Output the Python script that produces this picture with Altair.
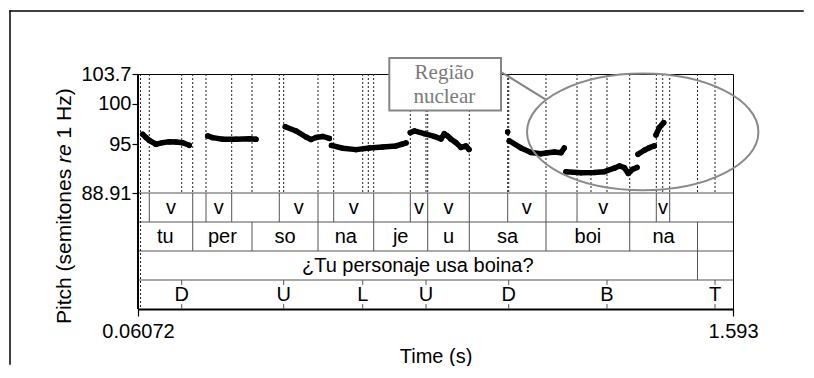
import altair as alt
import pandas as pd

# ---------------- axis ranges ----------------
X_MIN, X_MAX = 0.06072, 1.593
Y_MIN, Y_MAX = 88.91, 103.7
x_tick_values = [0.06072, 1.593]
y_tick_values = [88.91, 95, 100, 103.7]

# ---------------- pitch contour (time s, semitones re 1 Hz) ----------------
seg_t = [
    [0.0728, 0.0813, 0.0898, 0.1071, 0.1243, 0.1413, 0.1586, 0.1758, 0.1928],
    [0.2402, 0.2531, 0.2788, 0.3131, 0.3473, 0.3646],
    [0.4400, 0.4676, 0.4934, 0.5062, 0.5191, 0.5364, 0.5534],
    [0.5590, 0.5879, 0.6221, 0.6564, 0.6909, 0.7251, 0.7424, 0.7509],
    [0.7620, 0.7723, 0.7980, 0.8238, 0.8410, 0.8495, 0.8583, 0.8668, 0.8796, 0.8925, 0.9054, 0.9131],
    [1.0128],
    [1.0169, 1.0470, 1.0728, 1.0985, 1.1158, 1.1328, 1.1501, 1.1585],
    [1.1629, 1.2016, 1.2358, 1.2616, 1.2873, 1.3002, 1.3131, 1.3234, 1.3347, 1.3458],
    [1.3484, 1.3646, 1.3775, 1.3903],
    [1.3947, 1.4032, 1.4145],
]
seg_p = [
    [96.2, 95.8, 95.45, 94.97, 95.17, 95.29, 95.25, 95.15, 94.84],
    [96.0, 95.79, 95.6, 95.6, 95.66, 95.59],
    [97.15, 96.62, 95.87, 95.56, 95.81, 95.94, 95.69],
    [94.82, 94.47, 94.30, 94.51, 94.63, 94.76, 95.0, 95.13],
    [96.41, 96.62, 96.28, 95.94, 95.63, 96.28, 96.0, 95.59, 95.17, 94.57, 94.76, 94.32],
    [96.5],
    [95.38, 94.51, 93.95, 93.80, 93.92, 94.01, 93.92, 94.51],
    [91.56, 91.44, 91.46, 91.56, 91.99, 92.27, 92.06, 91.34, 91.86, 92.09],
    [93.72, 94.22, 94.54, 94.76],
    [96.12, 97.03, 97.65],
]

# ---------------- TextGrid tiers ----------------
v_starts = [0.06072, 0.0898, 0.2016, 0.2358, 0.3020, 0.4246, 0.5243, 0.5647, 0.6677,
            0.7620, 0.8068, 0.9139, 1.0128, 1.1114, 1.1913, 1.3270, 1.3955, 1.4300]
v_labels = ["", "v", "", "v", "", "v", "", "v", "", "v", "v", "", "v", "", "v", "", "v", ""]

syl_starts = [0.06072, 0.2016, 0.3543, 0.5243, 0.6677, 0.8068, 0.9139, 1.1114, 1.3270, 1.5016]
syl_labels = ["tu", "per", "so", "na", "je", "u", "sa", "boi", "na", ""]

sent_starts = [0.06072, 1.5016]
sent_labels = ["¿Tu personaje usa boina?", ""]

tone_times = [0.1733, 0.4359, 0.6394, 0.8024, 1.0154, 1.2685, 1.5467]
tone_labels = ["D", "U", "L", "U", "D", "B", "T"]

dotted_times = [0.0672, 0.0898, 0.1733, 0.2016, 0.2358, 0.3020, 0.3543, 0.4246, 0.4359,
                0.5243, 0.5647, 0.6394, 0.6538, 0.6677, 0.7620, 0.8024, 0.8068, 0.9139,
                1.0128, 1.0154, 1.1114, 1.1913, 1.2273, 1.2685, 1.3270, 1.3955, 1.4120,
                1.4300, 1.5016, 1.5467]
full_dotted_times = [0.0672]

# ---------------- annotation ----------------
box_t = [0.7079, 0.9955]
box_p = [105.69, 99.15]
box_text = ["Região", "nuclear"]
box_text_t = [0.8496, 0.8496]
box_text_p = [103.04, 100.13]
link_t = [0.9955, 1.1089]
link_p = [103.95, 100.59]
ellipse_t = [1.3605]
ellipse_p = [96.50]

# ---------------- build tables ----------------
pitch_rows = []
for i, (ts, ps) in enumerate(zip(seg_t, seg_p)):
    for t, p in zip(ts, ps):
        pitch_rows.append({"t": t, "p": p, "seg": i})
pitch_df = pd.DataFrame(pitch_rows)

tiers = [(v_starts, v_labels), (syl_starts, syl_labels), (sent_starts, sent_labels)]
bnd_rows, lab_rows = [], []
for r, (starts, labels) in enumerate(tiers):
    ends = starts[1:] + [X_MAX]
    for j, (s, e, lab) in enumerate(zip(starts, ends, labels)):
        if j > 0:
            bnd_rows.append({"t": s, "r0": r, "r1": r + 1})
        if lab:
            lab_rows.append({"mid": (s + e) / 2, "rm": r + 0.5, "label": lab})
for t, lab in zip(tone_times, tone_labels):
    lab_rows.append({"mid": t, "rm": 3.5, "label": lab})
bnd_df = pd.DataFrame(bnd_rows)
lab_df = pd.DataFrame(lab_rows)

tick_rows = []
for t in tone_times:
    tick_rows.append({"t": t, "r0": 3.0, "r1": 3.17})
    tick_rows.append({"t": t, "r0": 3.83, "r1": 4.0})
tick_df = pd.DataFrame(tick_rows)

hline_df = pd.DataFrame({"r": [0, 1, 2, 3], "x0": [X_MIN] * 4, "x1": [X_MAX] * 4})
dot_df = pd.DataFrame({"t": dotted_times, "y0": [Y_MAX] * len(dotted_times),
                       "y1": [Y_MIN] * len(dotted_times)})
fdot_df = pd.DataFrame({"t": full_dotted_times, "r0": [0] * len(full_dotted_times),
                        "r1": [4] * len(full_dotted_times)})
box_df = pd.DataFrame({"t0": [box_t[0]], "t1": [box_t[1]], "p0": [box_p[0]], "p1": [box_p[1]]})
boxtxt_df = pd.DataFrame({"t": box_text_t, "p": box_text_p, "label": box_text})
link_df = pd.DataFrame({"t": link_t, "p": link_p})
ell_df = pd.DataFrame({"t": ellipse_t, "p": ellipse_p})
one = alt.Data(values=[{}])

# ---------------- scales / axes ----------------
FONT = "Liberation Sans"
W, H = 595, 235
PITCH_H = 119

xs = alt.Scale(domain=[X_MIN, X_MAX], nice=False, zero=False)
xaxis = alt.Axis(values=x_tick_values, labelExpr="'' + datum.value", labelFontSize=20,
                 labelFont=FONT, labelColor="black", labelFlush=False,
                 labelBaseline="alphabetic", labelPadding=21, tickSize=7,
                 tickColor="black", tickWidth=1.2, domainColor="black", domainWidth=2,
                 grid=False, titleFontSize=20, titleFont=FONT, titleFontWeight="normal",
                 titleColor="black", titleY=53, titleBaseline="alphabetic")
ps = alt.Scale(domain=[Y_MIN, Y_MAX], range=[PITCH_H, 0], nice=False, zero=False)
ts = alt.Scale(domain=[0, 4], range=[PITCH_H, H], nice=False, zero=False)
yaxis = alt.Axis(values=y_tick_values, labelExpr="'' + datum.value", labelFontSize=20,
                 labelFont=FONT, labelColor="black", labelFlush=False, labelPadding=1,
                 tickSize=6, tickColor="black", tickWidth=1.2, domain=False, grid=False,
                 title=None)


def X(f):
    return alt.X(f, type="quantitative", scale=xs, axis=xaxis, title="Time (s)")


def YP(f, axis=None):
    if axis is None:
        return alt.Y(f, type="quantitative", scale=ps, axis=None)
    return alt.Y(f, type="quantitative", scale=ps, axis=axis)


def YT(f):
    return alt.Y(f, type="quantitative", scale=ts, axis=None)


LINE = "#555555"
GRAY = "#858585"

hlines = alt.Chart(hline_df).mark_rule(color=LINE, strokeWidth=1).encode(
    x=X("x0"), x2="x1", y=YT("r"))
bounds = alt.Chart(bnd_df).mark_rule(color=LINE, strokeWidth=1).encode(
    x=X("t"), y=YT("r0"), y2="r1")
ticks = alt.Chart(tick_df).mark_rule(color=LINE, strokeWidth=1).encode(
    x=X("t"), y=YT("r0"), y2="r1")
labels = alt.Chart(lab_df).mark_text(fontSize=20, font=FONT, color="black",
                                     baseline="middle", align="center").encode(
    x=X("mid"), y=YT("rm"), text="label:N")
dots = alt.Chart(dot_df).mark_rule(color="#222222", strokeWidth=1, strokeDash=[2, 2]).encode(
    x=X("t"), y=YP("y0"), y2="y1")
fdots = alt.Chart(fdot_df).mark_rule(color="#222222", strokeWidth=1, strokeDash=[2, 2]).encode(
    x=X("t"), y=YT("r0"), y2="r1")

left_line = alt.Chart(one).mark_rule(color="black", strokeWidth=2).encode(
    x=alt.value(0), y=alt.value(0), y2=alt.value(H))

pitch_line = alt.Chart(pitch_df).mark_line(color="black", strokeWidth=5.5,
                                           strokeCap="round", strokeJoin="round").encode(
    x=X("t"), y=YP("p", yaxis), detail="seg:N")
pitch_pts = alt.Chart(pitch_df).mark_circle(color="black", size=30, opacity=1).encode(
    x=X("t"), y=YP("p"))

box = alt.Chart(box_df).mark_rect(fill="white", stroke=GRAY, strokeWidth=2).encode(
    x=X("t0"), x2="t1", y=YP("p0"), y2="p1")
box_txt = alt.Chart(boxtxt_df).mark_text(fontSize=21, font="Liberation Serif", color="#7a7a7a",
                                         baseline="alphabetic", align="center").encode(
    x=X("t"), y=YP("p"), text="label:N")
link = alt.Chart(link_df).mark_line(color=GRAY, strokeWidth=2).encode(
    x=X("t"), y=YP("p"))
ellipse = alt.Chart(ell_df).mark_point(
    shape="M -1 0 A 1 0.504 0 1 0 1 0 A 1 0.504 0 1 0 -1 0 Z",
    size=53546, filled=False, color="#8a8a8a", strokeWidth=2, opacity=1).encode(
    x=X("t"), y=YP("p"))

ytitle_a = alt.Chart(one).mark_text(angle=270, align="left", baseline="alphabetic",
                                    fontSize=21, font=FONT, color="black").encode(
    x=alt.value(-67.5), y=alt.value(250), text=alt.value("Pitch (semitones"))
ytitle_b = alt.Chart(one).mark_text(angle=270, align="left", baseline="alphabetic",
                                    fontSize=21, font=FONT, fontStyle="italic",
                                    color="black").encode(
    x=alt.value(-67.5), y=alt.value(89.0), text=alt.value("re"))
ytitle_c = alt.Chart(one).mark_text(angle=270, align="left", baseline="alphabetic",
                                    fontSize=21, font=FONT, color="black").encode(
    x=alt.value(-67.5), y=alt.value(64.5), text=alt.value("1 Hz)"))

frame_top = alt.Chart(one).mark_rule(color="black", strokeWidth=1.5, strokeCap="square").encode(
    x=alt.value(-128), x2=alt.value(665), y=alt.value(-63))
frame_left = alt.Chart(one).mark_rule(color="black", strokeWidth=1.5, strokeCap="square").encode(
    x=alt.value(-128), y=alt.value(-63), y2=alt.value(290))

chart = alt.layer(
    hlines, bounds, ticks, labels, dots, fdots,
    pitch_line, pitch_pts,
    box, box_txt, link, ellipse,
    left_line, ytitle_a, ytitle_b, ytitle_c, frame_top, frame_left,
).resolve_scale(y="independent").properties(
    width=W, height=H,
    padding={"left": 0, "top": 1, "right": 0, "bottom": 0},
    background="white",
).configure_view(stroke="black", strokeWidth=1)

chart.save("out.html", embed_options={"renderer": "svg", "actions": False})
